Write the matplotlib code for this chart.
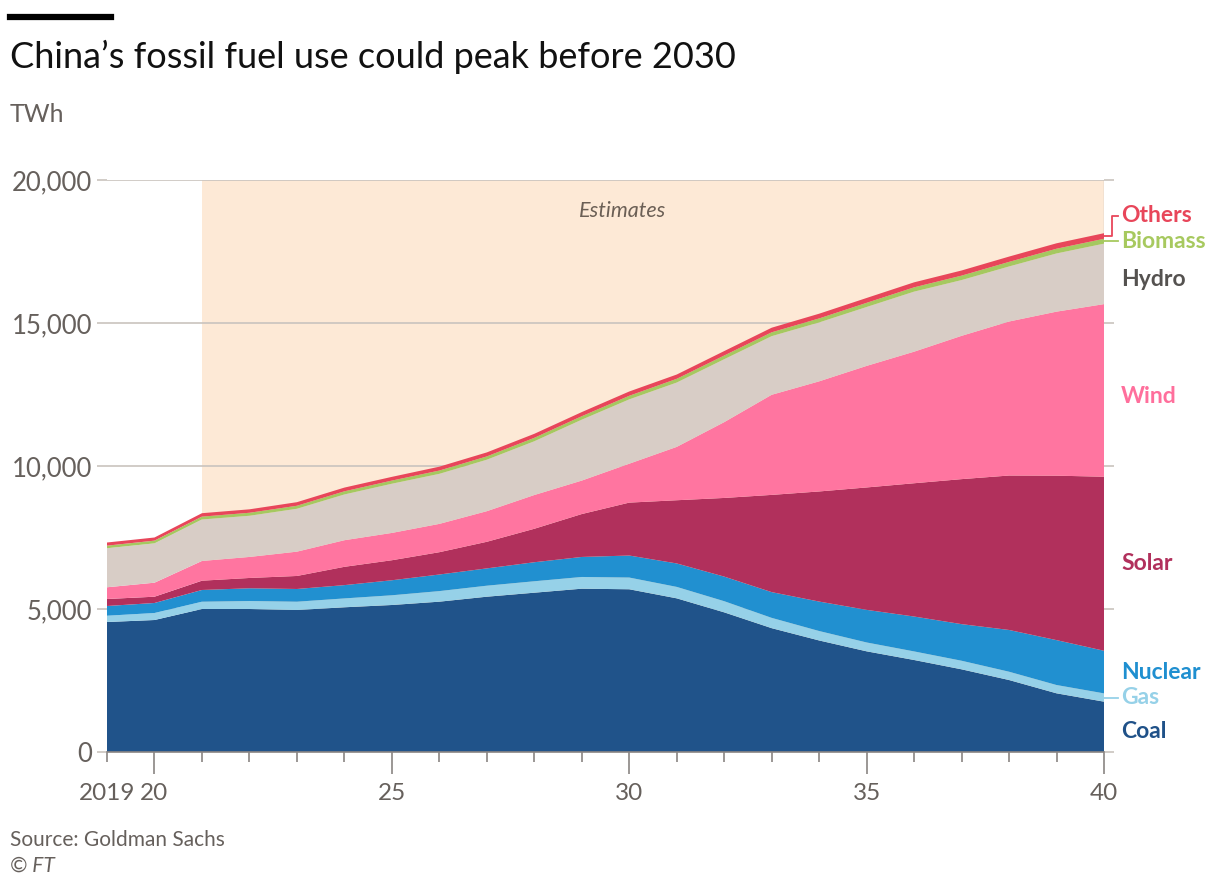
import numpy as np
import matplotlib
matplotlib.use("Agg")
import matplotlib.pyplot as plt

plt.rcParams['font.family'] = ['Lato', 'DejaVu Sans']

years = list(range(2019, 2041))

# TWh by source
coal = [4545, 4615, 5000, 5000, 4965, 5060, 5140, 5256, 5430, 5570, 5710,
        5690, 5373, 4883, 4330, 3900, 3520, 3217, 2891, 2517, 2052, 1760]
gas = [220, 245, 255, 280, 290, 310, 340, 370, 385, 400, 410,
       410, 400, 390, 360, 330, 310, 300, 300, 290, 290, 290]
nuclear = [340, 350, 410, 445, 445, 465, 525, 580, 605, 665, 700,
           770, 820, 860, 900, 1030, 1140, 1220, 1280, 1460, 1570, 1490]
solar = [245, 220, 325, 360, 455, 640, 700, 780, 930, 1170, 1500,
         1850, 2210, 2750, 3400, 3850, 4280, 4660, 5070, 5400, 5750, 6085]
wind = [410, 490, 690, 735, 850, 930, 955, 990, 1070, 1180, 1170,
        1360, 1865, 2650, 3500, 3850, 4250, 4600, 5010, 5385, 5735, 6035]
hydro = [1365, 1375, 1450, 1440, 1500, 1600, 1720, 1750, 1800, 1880, 2130,
         2250, 2250, 2200, 2050, 2060, 2060, 2100, 1950, 1925, 2035, 2115]
biomass = [90, 95, 100, 105, 105, 110, 110, 115, 115, 120, 120,
           125, 130, 130, 135, 140, 145, 150, 155, 160, 165, 170]
others = [110, 110, 120, 120, 125, 130, 130, 135, 140, 140, 145,
          150, 150, 155, 160, 165, 170, 175, 180, 185, 190, 195]

names = ['Coal', 'Gas', 'Nuclear', 'Solar', 'Wind', 'Hydro', 'Biomass', 'Others']
series = [coal, gas, nuclear, solar, wind, hydro, biomass, others]
colors = ['#20538a', '#96d1e8', '#2190d0', '#b1305c', '#ff75a0', '#d8cdc6', '#a5c860', '#e8465a']
label_colors = ['#1f5188', '#96d1e8', '#1f8fd0', '#b1305c', '#ff6f9c', '#555250', '#a7c95f', '#e8465a']

yticks = [0, 5000, 10000, 15000, 20000]
ytick_labels = ['0', '5,000', '10,000', '15,000', '20,000']
xticks = [2019, 2020, 2025, 2030, 2035, 2040]
xtick_labels = ['2019', '20', '25', '30', '35', '40']
est_start = 2021

grey_text = '#66605c'
grid_col = '#c9c3be'

fig = plt.figure(figsize=(12.22, 8.88), dpi=100)
ax = fig.add_axes([107 / 1222, 1 - 752 / 888, 997 / 1222, 572 / 888])

# estimates shading
ax.axvspan(est_start, 2040, color='#fde9d6', zorder=0, lw=0)
for y in yticks[1:]:
    ax.axhline(y, color=grid_col, lw=1.2, zorder=0.5)
ax.axvline(2040, color=grid_col, lw=1, zorder=0.5)

ax.stackplot(years, *series, colors=colors, lw=0, zorder=1)

ax.set_xlim(2019, 2040)
ax.set_ylim(0, 20000)

for s in ['top', 'right', 'left']:
    ax.spines[s].set_visible(False)
ax.spines['bottom'].set_color('#8a8583')
ax.spines['bottom'].set_linewidth(1.2)

ax.set_yticks(yticks)
ax.set_yticklabels(ytick_labels)
ax.tick_params(axis='y', which='both', left=True, right=True, direction='out',
               length=7.5, width=1.2, color=grid_col, labelsize=18.5,
               labelcolor=grey_text, pad=3)

ax.set_xticks(xticks)
ax.set_xticklabels(xtick_labels)
ax.set_xticks(years, minor=True)
ax.tick_params(axis='x', which='major', length=16, width=1.2, color='#8a8583',
               labelsize=17.5, labelcolor=grey_text, pad=6)
ax.tick_params(axis='x', which='minor', length=7.5, width=1.2, color='#8a8583')
ax.xaxis.get_major_ticks()[0].tick1line.set_markersize(7.5)

ax.text(2029.85, 18900, 'Estimates', style='italic', fontsize=15.5,
        color='#6b5f55', ha='center', va='center')

# right-hand labels at the middle of each band
tops = np.cumsum([s[-1] for s in series])
bottoms = tops - np.array([s[-1] for s in series])
mids = (tops + bottoms) / 2
px = 21 / 997  # one pixel in years
for i, name in enumerate(names):
    ly = mids[i]
    if name == 'Others':
        ly = mids[i] + 700
        ax.plot([2040, 2040 + 8 * px, 2040 + 8 * px, 2040 + 14 * px],
                [mids[i], mids[i], ly, ly], color=label_colors[i], lw=1.3,
                clip_on=False, zorder=3)
    elif name in ('Biomass', 'Gas'):
        ax.plot([2040, 2040 + 14 * px], [ly, ly], color=label_colors[i], lw=1.3,
                clip_on=False, zorder=3)
    if name == 'Coal':
        ly = mids[i] - 150
    elif name in ('Wind', 'Hydro'):
        ly = mids[i] - 200
    ax.text(2040 + 17 * px, ly, name, color=label_colors[i], fontsize=16.5,
            fontweight='bold', ha='left', va='center')

# header and footer
fig.add_artist(plt.Line2D([10 / 1222, 111 / 1222], [1 - 17 / 888, 1 - 17 / 888],
                          color='black', lw=4.5))
fig.text(10 / 1222, 1 - 57 / 888, 'China\u2019s fossil fuel use could peak before 2030',
         fontsize=26, color='#111111', ha='left', va='center')
fig.text(10 / 1222, 1 - 115 / 888, 'TWh', fontsize=18, color=grey_text,
         ha='left', va='center')
fig.text(10 / 1222, 1 - 840 / 888, 'Source: Goldman Sachs', fontsize=15,
         color=grey_text, ha='left', va='center')
fig.text(10 / 1222, 1 - 866 / 888, '\u00a9 FT', fontsize=15, style='italic',
         color=grey_text, ha='left', va='center')

fig.savefig('out.png', dpi=100, facecolor='white')
